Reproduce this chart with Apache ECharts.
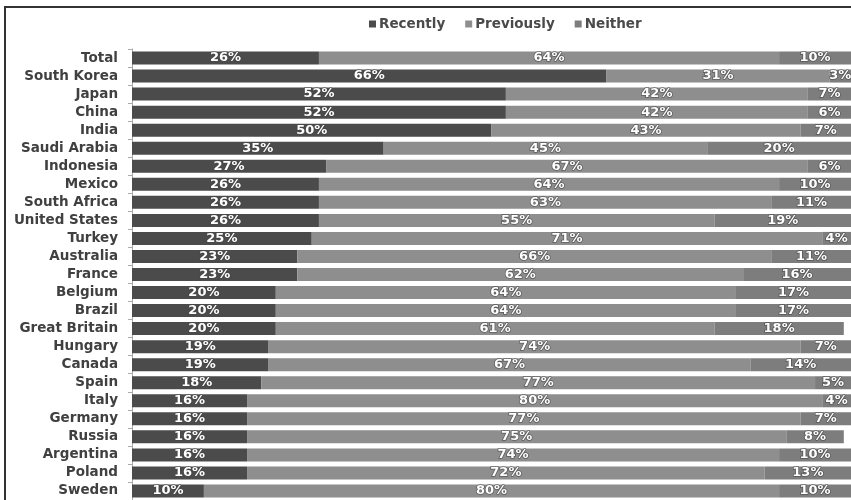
<!DOCTYPE html>
<html>
<head>
<meta charset="utf-8">
<script src="https://cdn.jsdelivr.net/npm/echarts@6/dist/echarts.min.js"></script>
<style>
  html, body { margin: 0; padding: 0; background: #fff; }
  #chart { width: 851px; height: 500px; }
</style>
</head>
<body>
<div id="chart"></div>
<script>
// Survey responses per country, in percent
const countries = [
  'Total', 'South Korea', 'Japan', 'China', 'India', 'Saudi Arabia', 'Indonesia',
  'Mexico', 'South Africa', 'United States', 'Turkey', 'Australia', 'France',
  'Belgium', 'Brazil', 'Great Britain', 'Hungary', 'Canada', 'Spain', 'Italy',
  'Germany', 'Russia', 'Argentina', 'Poland', 'Sweden'
];
const recently   = [26, 66, 52, 52, 50, 35, 27, 26, 26, 26, 25, 23, 23, 20, 20, 20, 19, 19, 18, 16, 16, 16, 16, 16, 10];
const previously = [64, 31, 42, 42, 43, 45, 67, 64, 63, 55, 71, 66, 62, 64, 64, 61, 74, 67, 77, 80, 77, 75, 74, 72, 80];
const neither    = [10,  3,  7,  6,  7, 20,  6, 10, 11, 19,  4, 11, 16, 17, 17, 18,  7, 14,  5,  4,  7,  8, 10, 13, 10];

const FONT = 'DejaVu Sans';

const labelStyle = {
  show: true,
  position: 'inside',
  formatter: p => p.value + '%',
  color: '#ffffff',
  fontFamily: FONT,
  fontWeight: 'bold',
  fontSize: 13,
  textBorderColor: 'rgba(70,70,70,0.7)',
  textBorderWidth: 1.5
};

function barSeries(name, data, color) {
  return {
    name: name,
    type: 'bar',
    stack: 'all',
    data: data,
    barWidth: 13,
    itemStyle: { color: color },
    label: labelStyle,
    emphasis: { disabled: true }
  };
}

const chart = echarts.init(document.getElementById('chart'), null, { renderer: 'canvas' });
chart.setOption({
  animation: false,
  backgroundColor: '#ffffff',
  legend: {
    left: 364,
    top: 12,
    itemWidth: 7,
    itemHeight: 7,
    itemGap: 20,
    icon: 'rect',
    textStyle: { fontFamily: FONT, fontWeight: 'bold', fontSize: 13.5, color: '#4a4a4a', padding: [0, 0, 0, -2] },
    data: ['Recently', 'Previously', 'Neither']
  },
  grid: { left: 132, right: 0, top: 49, bottom: -1, containLabel: false },
  xAxis: {
    type: 'value',
    min: 0,
    max: 100,
    show: false
  },
  yAxis: {
    type: 'category',
    data: countries,
    inverse: true,
    axisLine: { show: true, lineStyle: { color: '#aaaaaa', width: 1 } },
    axisTick: { show: true, length: 4, interval: 0, lineStyle: { color: '#aaaaaa' } },
    axisLabel: { interval: 0, hideOverlap: false, fontFamily: FONT, fontWeight: 'bold', fontSize: 13.5, color: '#404040', margin: 14 }
  },
  graphic: [{
    type: 'rect',
    shape: { x: 5, y: 7, width: 900, height: 600 },
    style: { fill: 'none', stroke: '#333333', lineWidth: 2 },
    silent: true
  }],
  series: [
    barSeries('Recently', recently, '#4b4b4b'),
    barSeries('Previously', previously, '#8e8e8e'),
    barSeries('Neither', neither, '#7d7d7d')
  ]
});
</script>
</body>
</html>
